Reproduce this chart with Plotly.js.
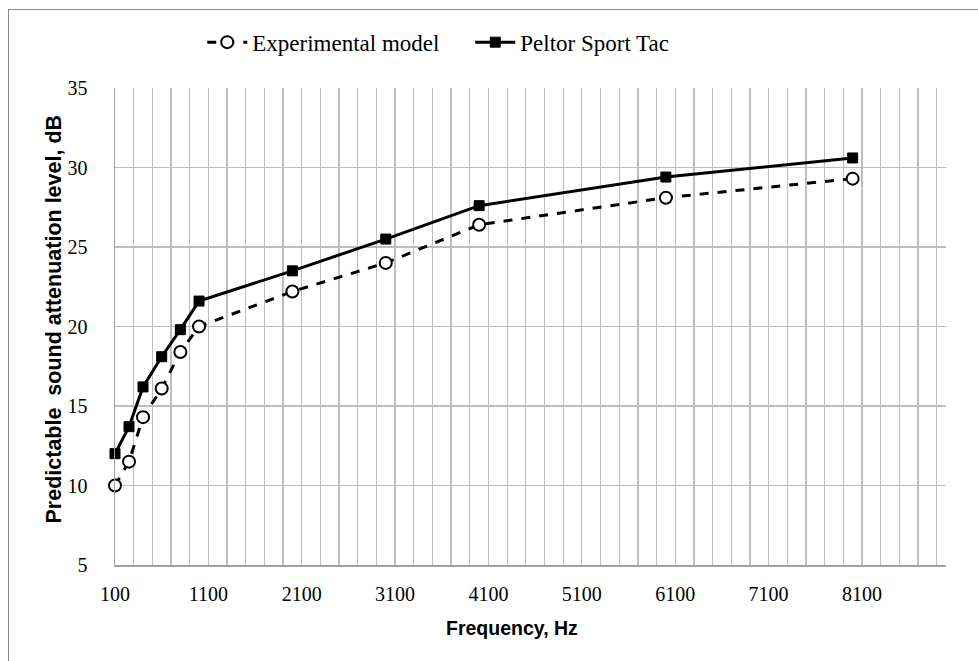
<!DOCTYPE html>
<html>
<head>
<meta charset="utf-8">
<script src="https://cdn.plot.ly/plotly-3.0.1.min.js"></script>
<style>
  html, body { margin: 0; padding: 0; background: #fff; }
  #wrap { position: relative; width: 978px; height: 661px; overflow: hidden; }
  #chart { width: 978px; height: 661px; }
  #frame { position: absolute; left: 8px; top: 9px; width: 1000px; height: 700px;
           border-top: 1.5px solid #8c8c8c; border-left: 1.5px solid #8c8c8c; pointer-events: none; }
</style>
</head>
<body>
<div id="wrap">
  <div id="chart"></div>
  <div id="frame"></div>
</div>
<script>
const frequencies = [100, 250, 400, 600, 800, 1000, 2000, 3000, 4000, 6000, 8000];
const experimentalModel = [10.0, 11.5, 14.3, 16.1, 18.4, 20.0, 22.2, 24.0, 26.4, 28.1, 29.3];
const peltorSportTac = [12.0, 13.7, 16.2, 18.1, 19.8, 21.6, 23.5, 25.5, 27.6, 29.4, 30.6];
const xTickVals = [100, 1100, 2100, 3100, 4100, 5100, 6100, 7100, 8100];
const xTickText = ['100', '1100', '2100', '3100', '4100', '5100', '6100', '7100', '8100'];
const yTickVals = [5, 10, 15, 20, 25, 30, 35];
const xTitle = 'Frequency, Hz';
const yTitle = 'Predictable&nbsp; sound attenuation level, dB';

const traces = [
  {
    x: frequencies, y: experimentalModel, name: 'Experimental model',
    type: 'scatter', mode: 'lines+markers', cliponaxis: false,
    line: { color: '#000', width: 3, dash: 'dash' },
    marker: { symbol: 'circle', size: 12, color: '#fff', line: { color: '#000', width: 2 } }
  },
  {
    x: frequencies, y: peltorSportTac, name: 'Peltor Sport Tac',
    type: 'scatter', mode: 'lines+markers', cliponaxis: false,
    line: { color: '#000', width: 3 },
    marker: { symbol: 'square', size: 10, color: '#000', line: { color: '#000', width: 1 } }
  }
];

const grid = '#bdbdbd';
const serif = 'Liberation Serif, Times New Roman, serif';
const sans = 'Liberation Sans, Arial, sans-serif';
const layout = {
  width: 978, height: 661,
  margin: { l: 115, r: 32, t: 88, b: 96 },
  paper_bgcolor: '#fff', plot_bgcolor: '#fff',
  showlegend: true,
  legend: {
    orientation: 'h', x: 0.105, xanchor: 'left', y: 1.096, yanchor: 'middle',
    font: { family: serif, size: 23, color: '#000' },
    entrywidth: 213, entrywidthmode: 'pixels',
    itemwidth: 40, tracegroupgap: 0, bgcolor: 'rgba(0,0,0,0)'
  },
  xaxis: {
    range: [100, 9000], tickvals: xTickVals, ticktext: xTickText,
    showgrid: true, gridcolor: grid, gridwidth: 1.3,
    minor: { tick0: 100, dtick: 200, showgrid: true, gridcolor: grid, gridwidth: 1.3 },
    showline: true, linecolor: '#a0a0a0', linewidth: 1.5,
    ticks: '', zeroline: false, ticklabelstandoff: 10,
    tickfont: { family: serif, size: 20, color: '#000' }
  },
  yaxis: {
    range: [5, 35], tickvals: yTickVals,
    showgrid: true, gridcolor: grid, gridwidth: 1.3,
    showline: true, linecolor: '#a0a0a0', linewidth: 1.5,
    ticks: '', zeroline: false, ticklabelstandoff: 22,
    tickfont: { family: serif, size: 20, color: '#000' }
  },
  annotations: [
    { text: xTitle, xref: 'paper', yref: 'paper', x: 0, y: 0, xanchor: 'center', yanchor: 'middle',
      xshift: 397, yshift: -63, showarrow: false,
      font: { family: sans, size: 19.5, color: '#000', weight: 'bold' } },
    { text: yTitle, xref: 'paper', yref: 'paper', x: 0, y: 0.5, xanchor: 'center', yanchor: 'middle',
      xshift: -62, yshift: 7, textangle: -90, showarrow: false,
      font: { family: sans, size: 21.5, color: '#000', weight: 'bold' } }
  ]
};

Plotly.newPlot('chart', traces, layout, { displayModeBar: false, staticPlot: true });
</script>
</body>
</html>
